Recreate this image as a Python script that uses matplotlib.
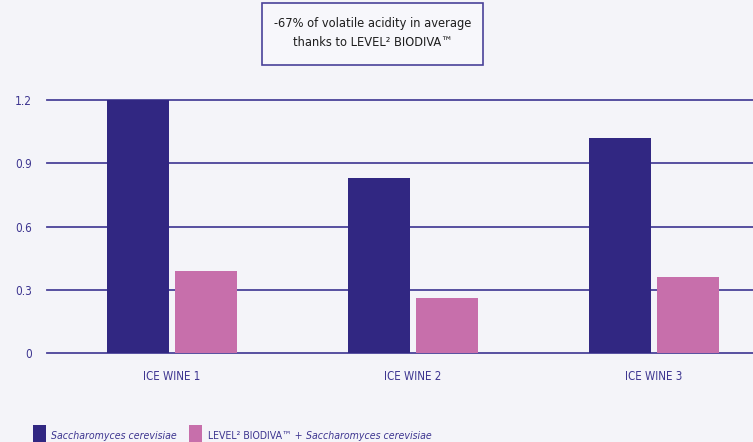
import matplotlib.pyplot as plt
import numpy as np
from matplotlib.patches import Rectangle

# Data
categories = ["ICE WINE 1", "ICE WINE 2", "ICE WINE 3"]
saccharomyces = [1.20, 0.83, 1.02]
biodiva = [0.39, 0.26, 0.36]
yticks = [0, 0.3, 0.6, 0.9, 1.2]
ytick_labels = ["0", "0.3", "0.6", "0.9", "1.2"]

BG = "#f4f4f9"
DARK = "#312782"
PINK = "#c76fab"
TXT = "#3d3590"
GRID = "#4a4299"

plt.rcParams["font.family"] = ["DejaVu Sans"]
plt.rcParams["font.stretch"] = "condensed"

W, H = 753, 442
fig = plt.figure(figsize=(W / 100, H / 100), dpi=100, facecolor=BG)
ax = fig.add_axes([47 / W, 1 - 353.3 / H, 706 / W, (353.3 - 100) / H])
ax.set_facecolor(BG)

x = np.arange(len(categories))
bw = 0.257
off = 0.141
ax.bar(x - off, saccharomyces, width=bw, color=DARK, zorder=3)
ax.bar(x + off, biodiva, width=bw, color=PINK, zorder=3)

ax.set_xlim(-0.519, 2.411)
ax.set_ylim(0, 1.2)
ax.set_yticks(yticks)
ax.set_yticklabels(ytick_labels)
for y in yticks:
    ax.axhline(y, color=GRID, lw=1.3, zorder=2, clip_on=False)

ax.set_xticks(x)
ax.set_xticklabels(categories)
ax.tick_params(axis="x", length=0, colors=TXT, labelsize=8.3, pad=12)
ax.tick_params(axis="y", length=0, colors=TXT, labelsize=8.5, pad=11)
for s in ax.spines.values():
    s.set_visible(False)

# Title box
fig.patches.append(Rectangle((262 / W, 1 - 65 / H), 221 / W, 62 / H,
                             transform=fig.transFigure, facecolor="#f7f7fb",
                             edgecolor=GRID, lw=1.2))
fig.text(373 / W, 1 - 33 / H,
         "-67% of volatile acidity in average\nthanks to LEVEL² BIODIVA™",
         ha="center", va="center", fontsize=9.2, color="#1e1e1e",
         linespacing=1.55)

# Legend (cut at the bottom, as in the reference)
ly = 1 - 436 / H
fs = 7.6
fig.patches.append(Rectangle((33 / W, 1 - 442 / H), 13 / W, 17 / H,
                             transform=fig.transFigure, facecolor=DARK, lw=0))
fig.text(51 / W, ly, "Saccharomyces cerevisiae", style="italic",
         fontsize=fs, color=TXT, va="center")
fig.patches.append(Rectangle((189 / W, 1 - 442 / H), 13 / W, 17 / H,
                             transform=fig.transFigure, facecolor=PINK, lw=0))
t1 = fig.text(208 / W, ly, "LEVEL² BIODIVA™ + ", fontsize=fs, color=TXT,
              va="center")
fig.canvas.draw()
x_end = t1.get_window_extent().x1
fig.text(x_end / W, ly, "Saccharomyces cerevisiae", style="italic",
         fontsize=fs, color=TXT, va="center")

fig.savefig("out.png", dpi=100, facecolor=BG)
